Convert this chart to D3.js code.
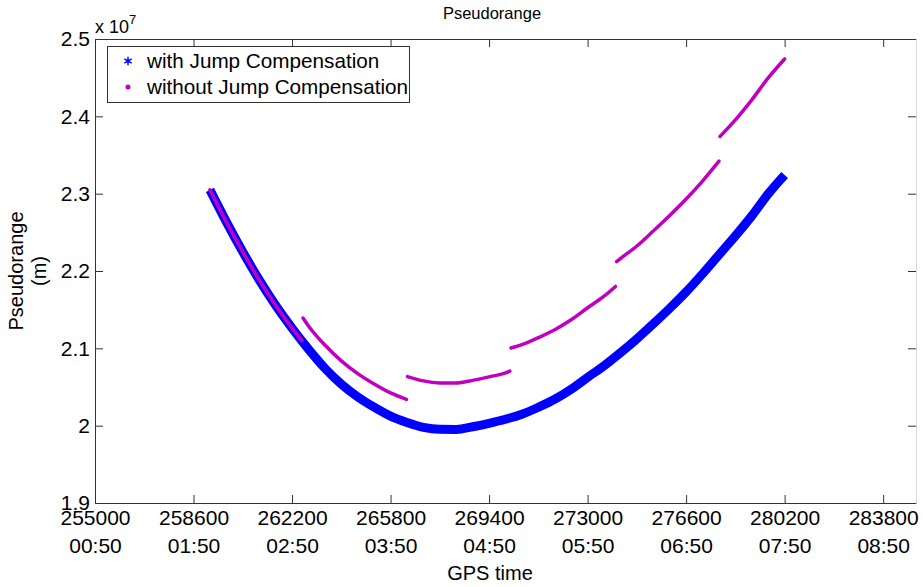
<!DOCTYPE html>
<html>
<head>
<meta charset="utf-8">
<script src="https://cdn.jsdelivr.net/npm/d3@7"></script>
<style>
  body { margin: 0; background: #fff; }
  svg { font-family: "Liberation Sans", Arial, sans-serif; }
</style>
</head>
<body>
<svg id="chart" width="923" height="587"></svg>
<script>
// GPS time of week (s) and pseudorange (m), with jump compensation
const timeWith = [259200, 259800, 260400, 261000, 261600, 262200, 262800, 263400, 264000,
  264600, 265200, 265800, 266400, 267000, 267600, 268200, 268800, 269400, 270000, 270600,
  271200, 271800, 272400, 273000, 273600, 274200, 274800, 275400, 276000, 276600, 277200,
  277800, 278400, 279000, 279600, 280200];
const rangeWith = [23049000, 22635000, 22247000, 21885000, 21556000, 21261000, 20990000,
  20743000, 20538000, 20373000, 20239000, 20123000, 20041000, 19979000, 19953000, 19951000,
  19986000, 20031000, 20083000, 20147000, 20238000, 20341000, 20470000, 20625000, 20774000,
  20942000, 21123000, 21317000, 21517000, 21730000, 21963000, 22209000, 22454000, 22713000,
  22997000, 23242000];

// without compensation: one piece between each clock jump
const timeWithout = [
  [259200, 259800, 260400, 261000, 261600, 262200, 262560],
  [262600, 262800, 263400, 264000, 264600, 265200, 265800, 266380],
  [266420, 267000, 267600, 268200, 268800, 269400, 270000, 270160],
  [270200, 270600, 271200, 271800, 272400, 273000, 273600, 274020],
  [274060, 274200, 274800, 275400, 276000, 276600, 277200, 277800],
  [277840, 278400, 279000, 279600, 280200]
];
const rangeWithout = [
  [23049000, 22635000, 22247000, 21885000, 21556000, 21261000, 21100000],
  [21392000, 21290000, 21043000, 20838000, 20673000, 20539000, 20423000, 20340000],
  [20635000, 20579000, 20553000, 20551000, 20586000, 20631000, 20683000, 20705000],
  [21004000, 21047000, 21138000, 21241000, 21370000, 21525000, 21674000, 21800000],
  [22120000, 22160000, 22323000, 22517000, 22717000, 22930000, 23163000, 23420000],
  [23740000, 23954000, 24213000, 24497000, 24742000]
];

const xTicks = [255000, 258600, 262200, 265800, 269400, 273000, 276600, 280200, 283800];
const xTickClock = ["00:50", "01:50", "02:50", "03:50", "04:50", "05:50", "06:50", "07:50", "08:50"];
const yTicks = [19000000, 20000000, 21000000, 22000000, 23000000, 24000000, 25000000];
const yTickLabels = ["1.9", "2", "2.1", "2.2", "2.3", "2.4", "2.5"];
const seriesNames = ["with Jump Compensation", "without Jump Compensation"];

const blue = "#0000ff", magenta = "#c000c0", axisColor = "#333";

const svg = d3.select("#chart");
const x = d3.scaleLinear().domain([255000, 285000]).range([95, 916]);
const y = d3.scaleLinear().domain([19000000, 25000000]).range([503, 39]);

// curves
const line = d3.line()
  .x(d => x(d[0]))
  .y(d => y(d[1]))
  .curve(d3.curveMonotoneX);

svg.append("path")
  .datum(timeWith.map((t, i) => [t, rangeWith[i]]))
  .attr("d", line)
  .attr("fill", "none")
  .attr("stroke", blue)
  .attr("stroke-width", 9);

svg.selectAll("path.seg")
  .data(timeWithout.map((ts, k) => ts.map((t, i) => [t, rangeWithout[k][i]])))
  .enter().append("path")
  .attr("class", "seg")
  .attr("d", line)
  .attr("fill", "none")
  .attr("stroke", magenta)
  .attr("stroke-width", 3.5)
  .attr("stroke-linecap", "round");

// axes
function styleAxis(g) {
  g.attr("font-family", null).attr("font-size", 21);
  g.selectAll("path, line").attr("stroke", axisColor);
  g.selectAll("text").attr("fill", "#000");
}

const bottom = svg.append("g")
  .attr("transform", "translate(0,503)")
  .call(d3.axisBottom(x).tickValues(xTicks).tickSize(-8).tickSizeOuter(0).tickFormat(""))
  .call(styleAxis);
bottom.selectAll(".tick text").each(function(d) {
  const i = xTicks.indexOf(d);
  const t = d3.select(this).attr("y", null).attr("dy", null);
  t.append("tspan").attr("x", 0).attr("y", 22).text(xTicks[i]);
  t.append("tspan").attr("x", 0).attr("y", 50).text(xTickClock[i]);
});

svg.append("g")
  .attr("transform", "translate(95,0)")
  .call(d3.axisLeft(y).tickValues(yTicks).tickSize(-8).tickSizeOuter(0).tickPadding(5)
    .tickFormat((d, i) => yTickLabels[i]))
  .call(styleAxis);

svg.append("g")
  .attr("transform", "translate(0,39)")
  .call(d3.axisTop(x).tickValues(xTicks).tickSize(-8).tickSizeOuter(0).tickFormat(""))
  .call(styleAxis);

const right = svg.append("g")
  .attr("transform", "translate(916,0)")
  .call(d3.axisRight(y).tickValues(yTicks).tickSize(-8).tickSizeOuter(0).tickFormat(""))
  .call(styleAxis);
right.select(".domain").attr("stroke", "#d8d8d8");

// exponent
const expo = svg.append("text").attr("x", 95).attr("y", 33).attr("font-size", 18);
expo.append("tspan").text("x 10");
expo.append("tspan").attr("font-size", 13).attr("dy", -9).text("7");

// titles
svg.append("text").attr("x", 492).attr("y", 19).attr("text-anchor", "middle")
  .attr("font-size", 16.5).text("Pseudorange");
svg.append("text").attr("x", 490).attr("y", 580).attr("text-anchor", "middle")
  .attr("font-size", 20).text("GPS time");
const yl = svg.append("text").attr("transform", "rotate(-90)").attr("text-anchor", "middle")
  .attr("font-size", 20);
yl.append("tspan").attr("x", -271).attr("y", 23).text("Pseudorange");
yl.append("tspan").attr("x", -271).attr("y", 46).text("(m)");

// legend
const legend = svg.append("g");
legend.append("rect")
  .attr("x", 107.5).attr("y", 46.5).attr("width", 302).attr("height", 56)
  .attr("fill", "#fff").attr("stroke", axisColor);
legend.append("path")
  .attr("transform", "translate(128,61)")
  .attr("d", d3.symbol(d3.symbolAsterisk, 50)())
  .attr("stroke", blue).attr("stroke-width", 1.5).attr("fill", "none");
legend.append("circle")
  .attr("cx", 128).attr("cy", 87).attr("r", 2.5).attr("fill", magenta);
legend.selectAll("text.lab")
  .data(seriesNames)
  .enter().append("text")
  .attr("class", "lab")
  .attr("x", 147).attr("y", (d, i) => 68 + i * 26)
  .attr("font-size", 20.7)
  .text(d => d);
</script>
</body>
</html>
